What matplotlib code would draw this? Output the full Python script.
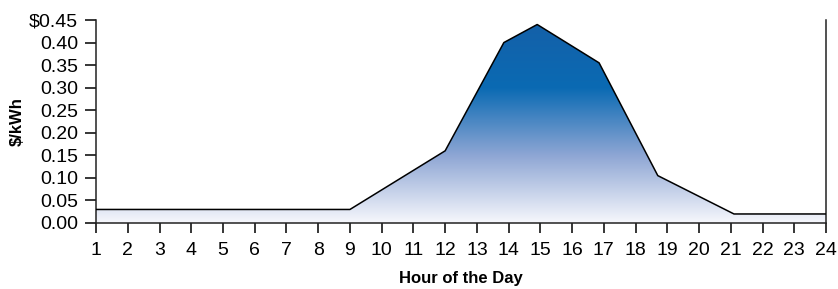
import matplotlib
matplotlib.use('Agg')
import matplotlib.pyplot as plt
import numpy as np
from matplotlib.colors import LinearSegmentedColormap
from matplotlib.patches import Polygon

hours = [1, 9, 12, 13.85, 14.9, 16.85, 18.7, 21.1, 24]
prices = [0.03, 0.03, 0.16, 0.40, 0.44, 0.355, 0.105, 0.02, 0.02]
xticks = list(range(1, 25))
yticks = [0.0, 0.05, 0.10, 0.15, 0.20, 0.25, 0.30, 0.35, 0.40, 0.45]
ytick_labels = ['0.00', '0.05', '0.10', '0.15', '0.20', '0.25', '0.30',
                '0.35', '0.40', '$0.45']

plt.rcParams['font.family'] = ['Liberation Sans', 'DejaVu Sans']

fig = plt.figure(figsize=(8.38, 2.89), dpi=100)
ax = fig.add_axes([0.1146, 0.2284, 0.8711, 0.7024])

# gradient fill clipped to the area under the curve
cmap = LinearSegmentedColormap.from_list('price', ['#f6f7fc', '#8ea6d4', '#0a6ab3', '#1560a8'])
grad = np.linspace(0, 1, 256).reshape(-1, 1)
im = ax.imshow(grad, cmap=cmap, origin='lower', aspect='auto',
               extent=(1, 24, 0, 0.45), zorder=1)
verts = [(hours[0], 0)] + list(zip(hours, prices)) + [(hours[-1], 0)]
clip = Polygon(verts, closed=True, transform=ax.transData, facecolor='none',
               edgecolor='none')
ax.add_patch(clip)
im.set_clip_path(clip)

ax.plot(hours, prices, color='black', linewidth=1.1, zorder=3)

ax.set_xlim(1, 24)
ax.set_ylim(0, 0.45)
ax.set_xticks(xticks)
ax.set_xticklabels([str(h) for h in xticks])
ax.set_yticks(yticks)
ax.set_yticklabels(ytick_labels)

ax.spines['top'].set_visible(False)
for s in ['left', 'bottom', 'right']:
    ax.spines[s].set_linewidth(1.1)
    ax.spines[s].set_color('#222222')

ax.tick_params(axis='y', direction='out', length=8, width=1.1, labelsize=14, pad=5)
ax.tick_params(axis='x', direction='out', length=7, width=1.1, labelsize=14, pad=7)

ax.set_ylabel('$/kWh', fontsize=12, fontweight='bold', labelpad=3)
ax.set_xlabel('Hour of the Day', fontsize=12, fontweight='bold', labelpad=8)

fig.savefig('out.png', dpi=100)
